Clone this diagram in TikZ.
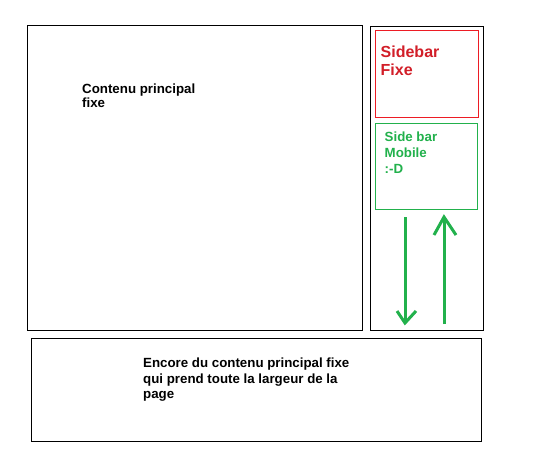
\documentclass[tikz,border=0pt]{standalone}
\usepackage{fontspec}
\setmainfont{Liberation Sans}
\usetikzlibrary{arrows.meta}
\definecolor{pred}{RGB}{237,28,36}
\definecolor{ptext}{RGB}{210,30,40}
\definecolor{pgreen}{RGB}{34,177,76}
\tikzset{
  box/.style={draw=black, line width=1pt},
  lbl/.style={anchor=base west, inner sep=0pt, align=left, font=\bfseries\fontsize{13.3}{15.5}\selectfont},
  arr/.style={draw=pgreen, line width=3pt},
}
\begin{document}
\begin{tikzpicture}[x=1pt,y=-1pt]
\useasboundingbox[fill=white] (0,0) rectangle (543,449);
% boxes
\draw[box] (27,26) rectangle (362,330);
\draw[box] (370,27) rectangle (483,330);
\draw[draw=pred, line width=1pt] (375,31) rectangle (478,118);
\draw[draw=pgreen, line width=1pt] (375,124) rectangle (477,209);
\draw[box] (31,338) rectangle (481,441);
% texts
\node[lbl] (t1) at (82,93.3) {Contenu principal};
\node[lbl] (t2) at (82,108) {fixe};
\node[lbl] (b1) at (143,367.7) {Encore du contenu principal fixe};
\node[lbl] (b2) at (143,383.3) {qui prend toute la largeur de la};
\node[lbl] (b3) at (143,398.8) {page};
\node[lbl, text=ptext, font=\bfseries\fontsize{16}{18}\selectfont] (s1) at (380.5,57.3) {Sidebar};
\node[lbl, text=ptext, font=\bfseries\fontsize{16}{18}\selectfont] (s2) at (380.5,75.3) {Fixe};
\node[lbl, text=pgreen] (m1) at (384.5,141.7) {Side bar};
\node[lbl, text=pgreen] (m2) at (384.5,157.7) {Mobile};
\node[lbl, text=pgreen] (m3) at (384.5,173.3) {:-D};
% arrows
\coordinate (dtop) at (405,217);
\coordinate (dtip) at (405,323);
\coordinate (dl) at (397,311);
\coordinate (dr) at (416,311);
\draw[arr] (dtop) -- (dtip);
\draw[arr, line join=miter] (dl) -- (dtip) -- (dr);
\coordinate (ubot) at (444,324);
\coordinate (utip) at (444,217);
\coordinate (ul) at (434,235);
\coordinate (ur) at (456,235);
\draw[arr] (ubot) -- (utip);
\draw[arr, line join=miter] (ul) -- (utip) -- (ur);
\end{tikzpicture}
\end{document}
